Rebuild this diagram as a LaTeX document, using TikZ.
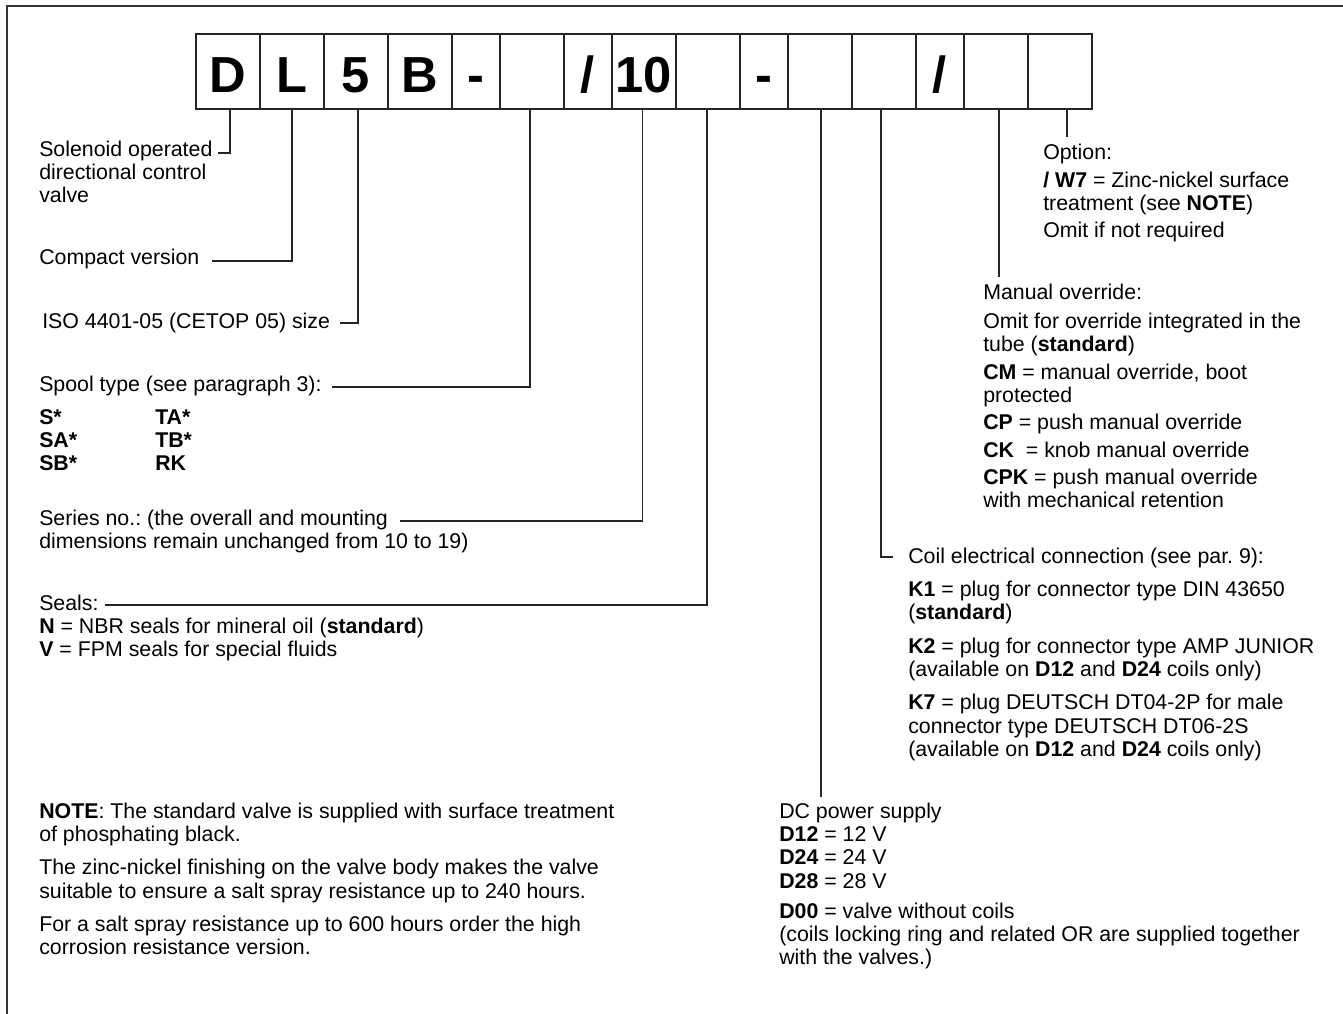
\documentclass[tikz,border=0pt]{standalone}
\usepackage{fontspec}
\setmainfont{Liberation Sans}
\frenchspacing
\newcommand\txtblock[1]{\parbox[t]{520pt}{\raggedright #1}}
\begin{document}
\begin{tikzpicture}[x=0.75pt,y=-0.75pt,
  conn/.style={draw=black!85, line width=0.9pt},
  frameline/.style={draw=black!80, line width=1.3pt},
  cell/.style={draw=black!85, line width=0.9pt, inner sep=0pt, outer sep=0pt,
    minimum height=56.25pt, text height=30.75pt, text depth=0pt, anchor=west,
    font=\fontsize{38}{40}\selectfont\bfseries},
  wide/.style={cell, minimum width=48pt},
  narrow/.style={cell, minimum width=36pt},
  txt/.style={anchor=base west, inner sep=0pt,
    font=\fontsize{16}{17.5}\selectfont\frenchspacing}
]
\useasboundingbox (0,0) rectangle (1343,1014);
\fill[white] (0,0) rectangle (1343,1014);
% frame
\draw[frameline] (7,1014) -- (7,6) -- (1343,6);

% code cells
\node[wide]   (c1)  at (196,71.5) {D};
\node[wide]   (c2)  at (c1.east)  {L};
\node[wide]   (c3)  at (c2.east)  {5};
\node[wide]   (c4)  at (c3.east)  {B};
\node[narrow] (c5)  at (c4.east)  {-};
\node[wide]   (c6)  at (c5.east)  {};
\node[narrow] (c7)  at (c6.east)  {/};
\node[wide]   (c8)  at (c7.east)  {10};
\node[wide]   (c9)  at (c8.east)  {};
\node[narrow] (c10) at (c9.east)  {-};
\node[wide]   (c11) at (c10.east) {};
\node[wide]   (c12) at (c11.east) {};
\node[narrow] (c13) at (c12.east) {/};
\node[wide]   (c14) at (c13.east) {};
\node[wide]   (c15) at (c14.east) {};

% left texts
\node[txt] (sol) at (39,156) {\txtblock{Solenoid operated\\directional control\\valve}};
\node[txt] (compact) at (39,264) {Compact version};
\node[txt] (iso) at (42,328) {ISO 4401-05 (CETOP 05) size};
\node[txt] (spool) at (39,391) {Spool type (see paragraph 3):};
\node[txt] (spa) at (39,424) {\txtblock{\textbf{S*}\\\textbf{SA*}\\\textbf{SB*}}};
\node[txt] (spb) at (155,424) {\txtblock{\textbf{TA*}\\\textbf{TB*}\\\textbf{RK}}};
\node[txt] (series) at (39,525) {\txtblock{Series no.: (the overall and mounting\\dimensions remain unchanged from 10 to 19)}};
\node[txt] (seals) at (39,610) {\txtblock{Seals:\\\textbf{N} = NBR seals for mineral oil (\textbf{standard})\\\textbf{V} = FPM seals for special fluids}};
\node[txt] (note) at (39,818) {\txtblock{\textbf{NOTE}: The standard valve is supplied with surface treatment\\of phosphating black.\\[7.5pt]The zinc-nickel finishing on the valve body makes the valve\\suitable to ensure a salt spray resistance up to 240 hours.\\[7.5pt]For a salt spray resistance up to 600 hours order the high\\corrosion resistance version.}};

% right texts
\node[txt] (opt) at (1043,159) {\txtblock{Option:\\[3.5pt]\textbf{/ W7} = Zinc-nickel surface\\treatment (see \textbf{NOTE})\\[2.5pt]Omit if not required}};
\node[txt] (man) at (983,299) {\txtblock{Manual override:\\[4.5pt]Omit for override integrated in the\\tube (\textbf{standard})\\[3pt]\textbf{CM} = manual override, boot\\protected\\[3pt]\textbf{CP} = push manual override\\[3pt]\textbf{CK}\ \ = knob manual override\\[3pt]\textbf{CPK} = push manual override\\with mechanical retention}};
\node[txt] (coil) at (908,563) {\txtblock{Coil electrical connection (see par. 9):\\[7.5pt]\textbf{K1} = plug for connector type DIN 43650\\(\textbf{standard})\\[7.5pt]\textbf{K2} = plug for connector type AMP JUNIOR\\(available on \textbf{D12} and \textbf{D24} coils only)\\[7.5pt]\textbf{K7} = plug DEUTSCH DT04-2P for male\\connector type DEUTSCH DT06-2S\\(available on \textbf{D12} and \textbf{D24} coils only)}};
\node[txt] (dc) at (779,818) {\txtblock{DC power supply\\\textbf{D12} = 12 V\\\textbf{D24} = 24 V\\\textbf{D28} = 28 V\\[5pt]\textbf{D00} = valve without coils\\(coils locking ring and related OR are supplied together\\with the valves.)}};

% connector ends
\coordinate (e1) at (218,153);
\coordinate (e2) at (212,261);
\coordinate (e3) at (340,323);
\coordinate (e4) at (332,387);
\coordinate (e8) at (400,521);
\coordinate (e9) at (105,605);
\coordinate (e11) at (821,797);
\coordinate (e12) at (893,557);
\coordinate (e14) at (999,277);
\coordinate (e15) at (1067,137);

\draw[conn] ([xshift=1.5pt]c1.south) |- (e1);
\draw[conn] (c2.south) |- (e2);
\draw[conn] ([xshift=1.5pt]c3.south) |- (e3);
\draw[conn] ([xshift=-1.5pt]c6.south) |- (e4);
\draw[conn] ([xshift=-1pt]c8.south) |- (e8);
\draw[conn] ([xshift=-0.75pt]c9.south) |- (e9);
\draw[conn] (c11.south -| e11) -- (e11);
\draw[conn] ([xshift=-2.25pt]c12.south) |- (e12);
\draw[conn] (c14.south -| e14) -- (e14);
\draw[conn] (c15.south -| e15) -- (e15);
\end{tikzpicture}
\end{document}
